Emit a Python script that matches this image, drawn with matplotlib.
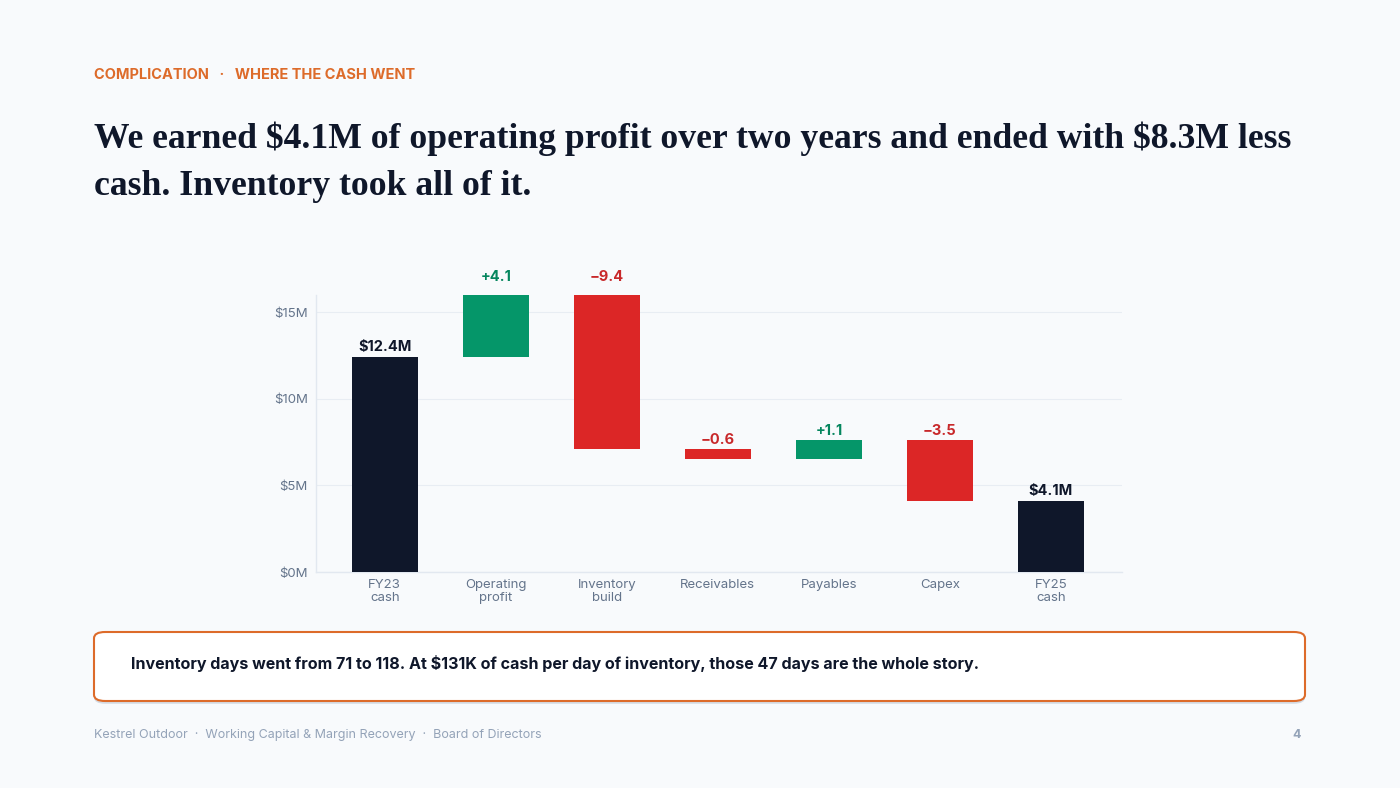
import matplotlib
import matplotlib.pyplot as plt
from matplotlib.patches import FancyBboxPatch
import matplotlib.patheffects as pe

matplotlib.use('Agg')
plt.rcParams['text.parse_math'] = False  # i simboli $ restano testo normale

# dati del waterfall (milioni di dollari)
categories = ['FY23\ncash', 'Operating\nprofit', 'Inventory\nbuild', 'Receivables',
              'Payables', 'Capex', 'FY25\ncash']
start_cash = 12.4
deltas = [4.1, -9.4, -0.6, 1.1, -3.5]
end_cash = 4.1
delta_labels = ['+4.1', '\u22129.4', '\u22120.6', '+1.1', '\u22123.5']
yticks = [0, 5, 10, 15]
ytick_labels = ['$0M', '$5M', '$10M', '$15M']

BG = '#f8fafc'
NAVY = '#0f172a'
GREEN = '#059669'
RED = '#dc2626'
GREEN_TXT = '#05865e'
RED_TXT = '#c8282a'
ORANGE = '#dd6b2a'
SANS = ['Inter', 'DejaVu Sans']

fig = plt.figure(figsize=(14, 7.88), dpi=100)
fig.patch.set_facecolor(BG)

ax = fig.add_axes([0.2257, 0.2741, 0.5757, 0.3515])
ax.set_facecolor(BG)

# basi e altezze delle barre
bottoms = [0]
heights = [start_cash]
colors = [NAVY]
running = start_cash
for d in deltas:
    new = running + d
    bottoms.append(min(running, new))
    heights.append(abs(d))
    colors.append(GREEN if d > 0 else RED)
    running = new
bottoms.append(0)
heights.append(end_cash)
colors.append(NAVY)

x = list(range(len(categories)))
ax.bar(x, heights, bottom=bottoms, width=0.6, color=colors, zorder=3)

# etichette sopra le barre
ax.text(0, start_cash + 0.2, '$12.4M', ha='center', va='bottom', fontsize=10.5,
        fontweight='bold', color=NAVY, family=SANS)
ax.text(6, end_cash + 0.2, '$4.1M', ha='center', va='bottom', fontsize=10.5,
        fontweight='bold', color=NAVY, family=SANS)
for i, d in enumerate(deltas):
    top = bottoms[i + 1] + heights[i + 1]
    ax.text(i + 1, top + 0.12, delta_labels[i], ha='center', va='bottom', fontsize=10.5,
            fontweight='bold', color=GREEN_TXT if d > 0 else RED_TXT, family=SANS, clip_on=False)

ax.set_xlim(-0.62, 6.64)
ax.set_ylim(0, 16)
ax.set_yticks(yticks)
ax.set_yticklabels(ytick_labels)
ax.set_xticks(x)
ax.set_xticklabels(categories, linespacing=1.1)
ax.tick_params(axis='both', length=0, colors='#64748b', labelsize=9.5)
ax.tick_params(axis='y', pad=6)
ax.tick_params(axis='x', pad=5)
for lab in ax.get_xticklabels() + ax.get_yticklabels():
    lab.set_family(SANS)
ax.grid(axis='y', color='#e8edf3', linewidth=0.8, zorder=0)
ax.set_axisbelow(True)
for s in ['top', 'right']:
    ax.spines[s].set_visible(False)
for s in ['left', 'bottom']:
    ax.spines[s].set_color('#e2e8f0')
    ax.spines[s].set_linewidth(1)

# intestazione
fig.text(94 / 1400, 1 - 75 / 788, 'COMPLICATION   \u00b7   WHERE THE CASH WENT', ha='left', va='center',
         fontsize=10.5, fontweight='bold', color=ORANGE, family=SANS)
fig.text(94 / 1400, 1 - 162.5 / 788,
         'We earned $4.1M of operating profit over two years and ended with $8.3M less\n'
         'cash. Inventory took all of it.',
         ha='left', va='center', fontsize=25.7, fontweight='bold', color=NAVY,
         family=['Liberation Serif', 'DejaVu Serif'], linespacing=1.55)

# riquadro di commento
box = FancyBboxPatch((94 / 1400, 1 - 701 / 788), (1305 - 94) / 1400, 69 / 788,
                     boxstyle='round,pad=0,rounding_size=0.008', transform=fig.transFigure,
                     facecolor='white', edgecolor=ORANGE, linewidth=1.5,
                     path_effects=[pe.SimplePatchShadow(offset=(0, -2), shadow_rgbFace='#94a3b8', alpha=0.35),
                                   pe.Normal()])
fig.patches.append(box)
fig.text(131 / 1400, 1 - 663 / 788,
         'Inventory days went from 71 to 118. At $131K of cash per day of inventory, those 47 days are the whole story.',
         ha='left', va='center', fontsize=11.58, fontweight='bold', color=NAVY, family=SANS)

# piè di pagina
fig.text(94 / 1400, 1 - 735 / 788,
         'Kestrel Outdoor  \u00b7  Working Capital & Margin Recovery  \u00b7  Board of Directors',
         ha='left', va='center', fontsize=9, color='#94a3b8', family=SANS)
fig.text(1301 / 1400, 1 - 735 / 788, '4', ha='right', va='center', fontsize=9,
         fontweight='bold', color='#94a3b8', family=SANS)

plt.savefig('out.png', dpi=100, facecolor=BG)
plt.close()
